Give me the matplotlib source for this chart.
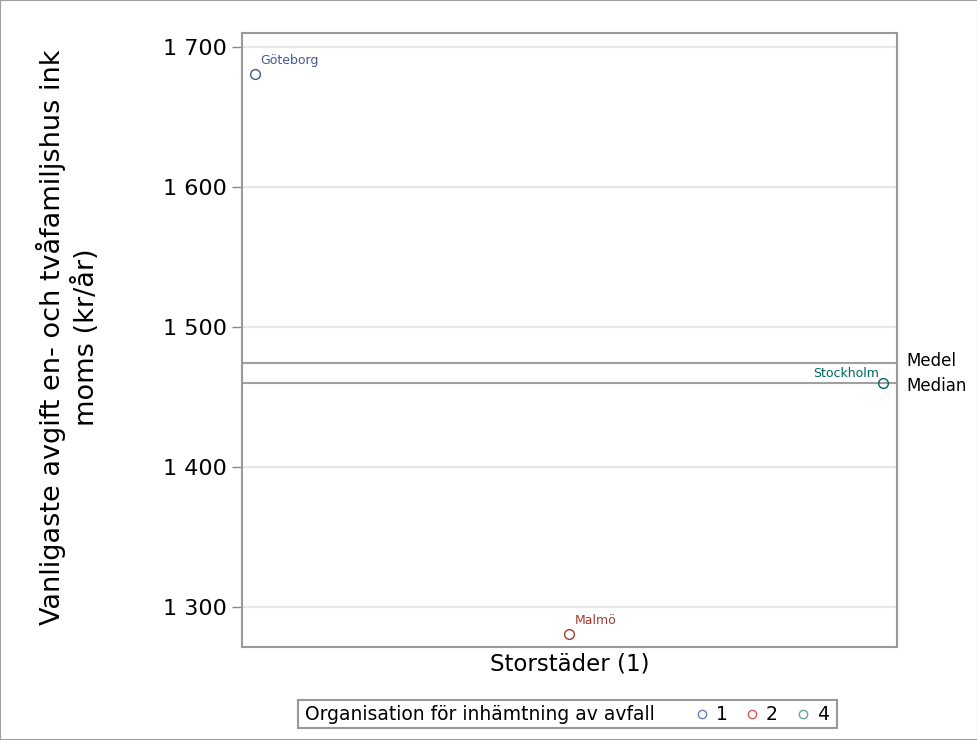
import numpy as np
import matplotlib.pyplot as plt
from matplotlib.lines import Line2D
from matplotlib.patches import Rectangle

# Data
kommuner = ['Göteborg', 'Malmö', 'Stockholm']
avgift = [1681, 1281, 1460]
grupp = ['1', '2', '4']
farger = ['#445694', '#A23A2E', '#01665E']
ljusa_farger = ['#6F7EB3', '#D05B5B', '#66A5A0']
yticks = [1300, 1400, 1500, 1600, 1700]
yticklabels = ['1 300', '1 400', '1 500', '1 600', '1 700']

medel = np.mean(avgift)
median = np.median(avgift)

plt.rcParams['font.family'] = ['DejaVu Sans']

W, H = 978, 740
fig = plt.figure(figsize=(W/100, H/100), dpi=100)
ax = fig.add_axes([242/W, 1-647/H, 655/W, 614/H])

x = np.arange(len(avgift))
for i in range(len(avgift)):
    ax.plot(x[i], avgift[i], 'o', mfc='none', mec=farger[i], ms=7, mew=1)

# etiketter vid punkterna
ax.annotate(kommuner[0], (x[0], avgift[0]), xytext=(4, 5), textcoords='offset points',
            color=farger[0], fontsize=9, ha='left', va='bottom')
ax.annotate(kommuner[1], (x[1], avgift[1]), xytext=(4, 5), textcoords='offset points',
            color=farger[1], fontsize=9, ha='left', va='bottom')
ax.annotate(kommuner[2], (x[2], avgift[2]), xytext=(-3, 2), textcoords='offset points',
            color=farger[2], fontsize=9, ha='right', va='bottom')

# medel och median
ax.axhline(medel, color='#a0a0a0', lw=1.5, zorder=1)
ax.axhline(median, color='#a0a0a0', lw=1.5, zorder=1)
ax.text(1.014, medel + 2, 'Medel', transform=ax.get_yaxis_transform(), fontsize=12, va='center')
ax.text(1.014, median - 2, 'Median', transform=ax.get_yaxis_transform(), fontsize=12, va='center')

ax.set_xlim(-0.04, 2.045)
ax.set_ylim(1271.4, 1710)
ax.set_xticks([])
ax.set_yticks(yticks)
ax.set_yticklabels(yticklabels, fontsize=16)
ax.yaxis.grid(True, color='#e6e6e6', lw=1.5)
ax.set_axisbelow(True)
ax.tick_params(axis='y', length=7, color='#888888', width=1, pad=4)
for s in ax.spines.values():
    s.set_color('#999999')
    s.set_linewidth(1.5)

ax.set_xlabel('Storstäder (1)', fontsize=16.5, labelpad=4)
fig.text(68/W, 1-337/H, 'Vanligaste avgift en- och tvåfamiljshus ink\nmoms (kr/år)',
         rotation=90, fontsize=19.5, ha='center', va='center', multialignment='center',
         linespacing=1.3)

# legend, ritad för hand
fig.patches.append(Rectangle((298/W, 1-728/H), (837-298)/W, 28/H, transform=fig.transFigure,
                             fill=False, edgecolor='#999999', lw=1.5))
fig.text(305/W, 1-714/H, 'Organisation för inhämtning av avfall', fontsize=13.5,
         ha='left', va='center')
mx = [702, 752, 803]
for i in range(len(grupp)):
    fig.add_artist(Line2D([mx[i]/W], [1-714/H], marker='o', ls='none', mfc='none',
                          mec=ljusa_farger[i], ms=6, mew=1, transform=fig.transFigure))
    fig.text((mx[i]+14)/W, 1-714/H, grupp[i], fontsize=13.5, ha='left', va='center')

# yttre ram
fig.patches.append(Rectangle((0, 0), 1, 1, transform=fig.transFigure, fill=False,
                             edgecolor='#a0a0a0', lw=1.5))

fig.savefig('out.png', dpi=100)
